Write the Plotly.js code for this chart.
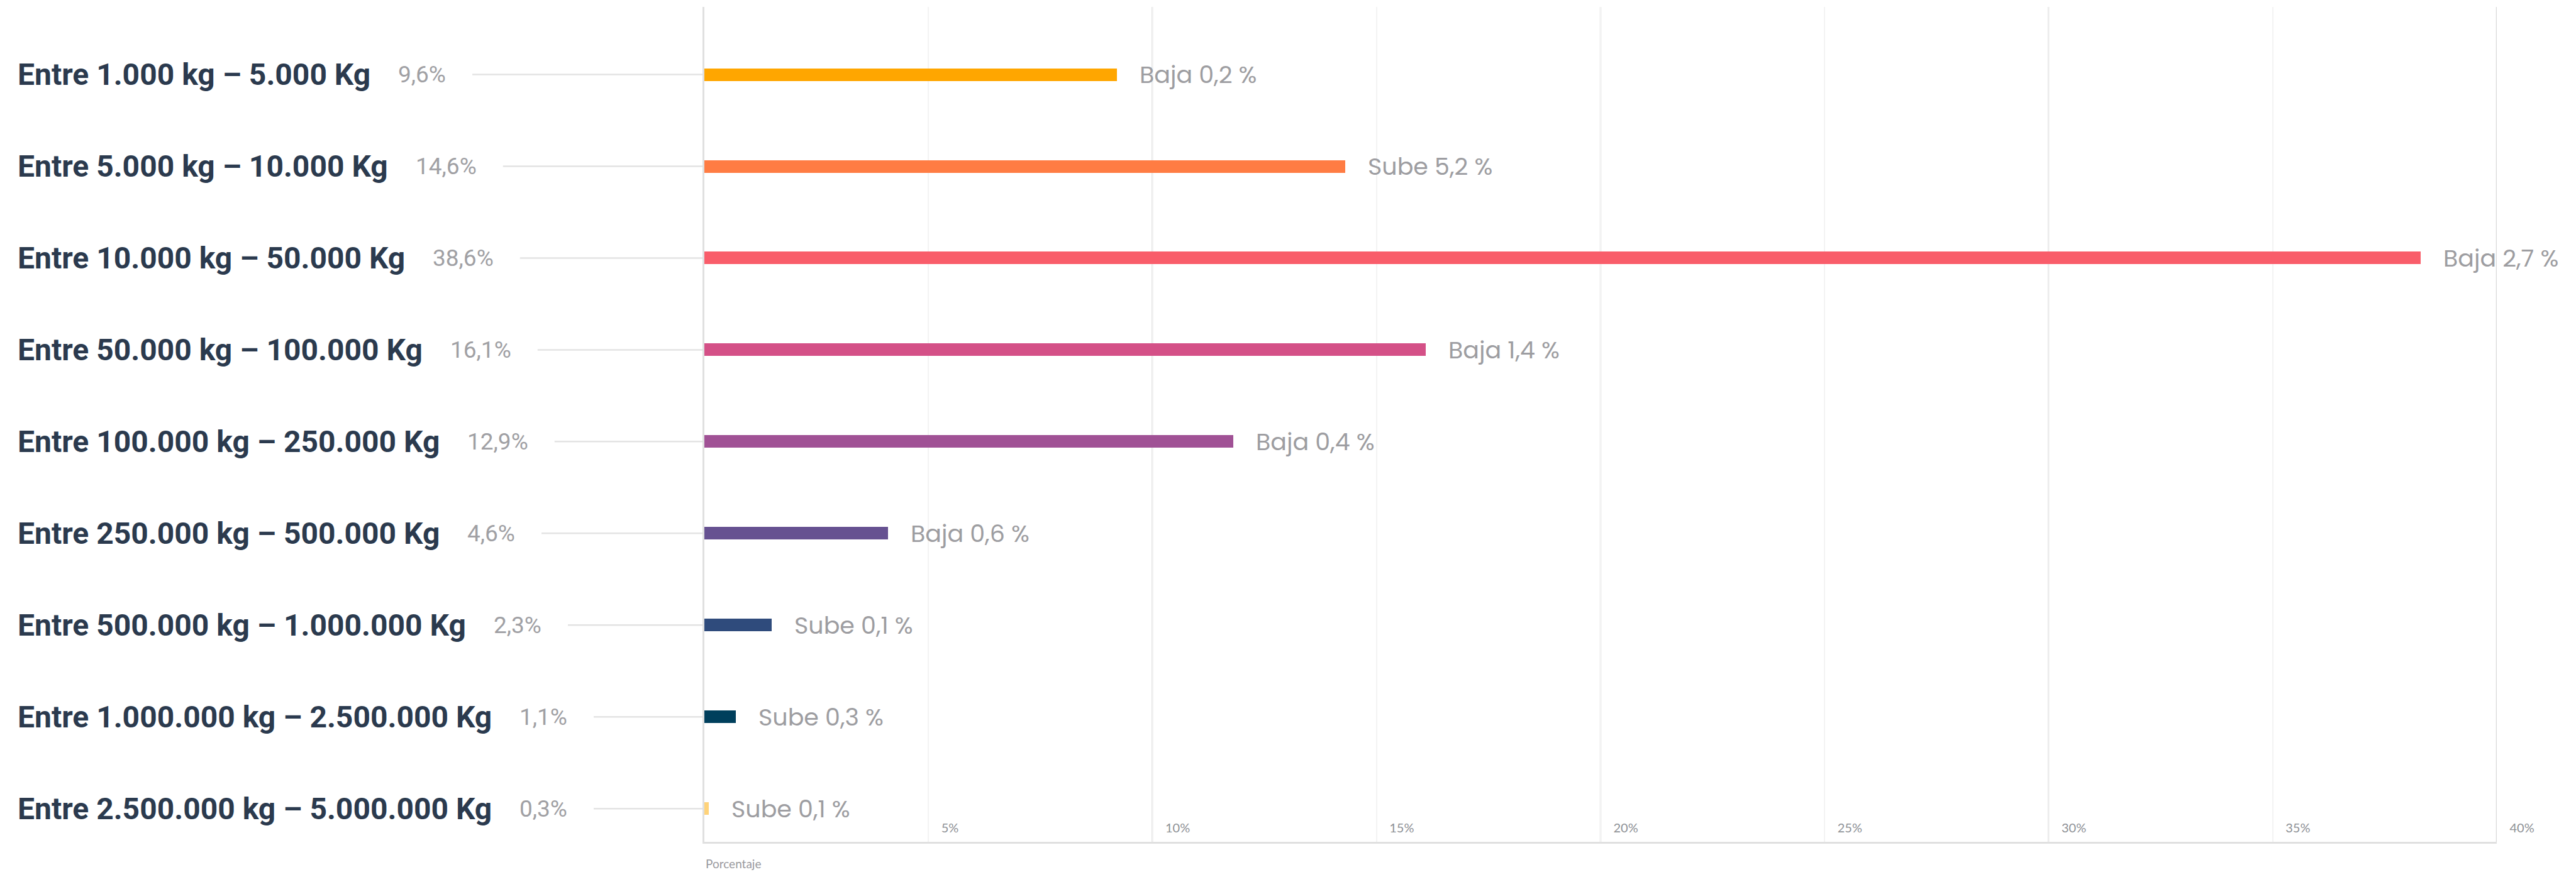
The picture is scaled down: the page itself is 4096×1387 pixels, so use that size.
<!DOCTYPE html>
<html>
<head>
<meta charset="utf-8">
<script src="https://cdn.plot.ly/plotly-3.0.1.min.js"></script>
<style>
  html, body { margin: 0; padding: 0; background: #ffffff; }
  #chart { width: 4096px; height: 1387px; }
</style>
</head>
<body>
<div id="chart"></div>
<script>
// ---- data ----
const categories = [
  'Entre 1.000 kg – 5.000 Kg',
  'Entre 5.000 kg – 10.000 Kg',
  'Entre 10.000 kg – 50.000 Kg',
  'Entre 50.000 kg – 100.000 Kg',
  'Entre 100.000 kg – 250.000 Kg',
  'Entre 250.000 kg – 500.000 Kg',
  'Entre 500.000 kg – 1.000.000 Kg',
  'Entre 1.000.000 kg – 2.500.000 Kg',
  'Entre 2.500.000 kg – 5.000.000 Kg'
];
const shareLabels = ['9,6%', '14,6%', '38,6%', '16,1%', '12,9%', '4,6%', '2,3%', '1,1%', '0,3%'];
const barValues = [9.2, 14.3, 38.3, 16.1, 11.8, 4.1, 1.5, 0.7, 0.1];
const changeLabels = ['Baja 0,2 %', 'Sube 5,2 %', 'Baja 2,7 %', 'Baja 1,4 %', 'Baja 0,4 %', 'Baja 0,6 %', 'Sube 0,1 %', 'Sube 0,3 %', 'Sube 0,1 %'];
const barColors = ['#FFA600', '#FF7C43', '#F95D6A', '#D45087', '#A05195', '#665191', '#2F4B7C', '#003F5C', '#FFD37A'];
const tickVals = [5, 10, 15, 20, 25, 30, 35, 40];
const tickText = ['5%', '10%', '15%', '20%', '25%', '30%', '35%', '40%'];
const majorGrid = [10, 20, 30, 40];
const axisTitle = 'Porcentaje';

// ---- styles ----
const LABEL_FONT = {family: 'Roboto, sans-serif', size: 48, color: '#2b3a4e', weight: 700};
const SHARE_FONT = {family: 'Roboto, sans-serif', size: 37, color: '#a0a0a4'};
const CHANGE_FONT = {family: 'Poppins, Lato, sans-serif', size: 38, color: '#9d9da1'};
const GAP = 42;

const gd = document.getElementById('chart');

const traces = [{
  type: 'bar',
  orientation: 'h',
  x: barValues,
  y: categories,
  width: 0.137,
  marker: {color: barColors, line: {width: 0}},
  hoverinfo: 'none',
  showlegend: false
}];

const annotations = [];
categories.forEach((c) => {
  annotations.push({
    xref: 'paper', yref: 'y', x: 0, y: c, xshift: -1094,
    xanchor: 'left', yanchor: 'middle', showarrow: false,
    text: c, font: LABEL_FONT
  });
});
shareLabels.forEach((s, i) => {
  annotations.push({
    xref: 'paper', yref: 'y', x: -0.2, y: categories[i],
    xanchor: 'left', yanchor: 'middle', showarrow: false,
    text: s, font: SHARE_FONT
  });
});
changeLabels.forEach((s, i) => {
  annotations.push({
    xref: 'x', yref: 'y', x: barValues[i], y: categories[i], xshift: 34,
    xanchor: 'left', yanchor: 'middle', showarrow: false,
    text: s, font: CHANGE_FONT
  });
});
annotations.push({
  xref: 'paper', yref: 'paper', x: 0, y: 0, yshift: -34,
  xanchor: 'left', yanchor: 'middle', showarrow: false,
  text: axisTitle, font: {family: 'Lato, sans-serif', size: 19, color: '#9a9a9e'}
});

const gridShapes = majorGrid.map(v => ({
  type: 'line', xref: 'x', yref: 'paper', x0: v, x1: v, y0: 0, y1: 1,
  line: {color: '#d9d9d9', width: 2.5}, layer: 'below'
}));

const layout = {
  width: 4096, height: 1387,
  margin: {l: 1120, r: 126, t: 11, b: 48, pad: 0},
  paper_bgcolor: '#ffffff', plot_bgcolor: '#ffffff',
  showlegend: false,
  bargap: 0,
  xaxis: {
    range: [0, 40],
    tickmode: 'array', tickvals: tickVals, ticktext: tickText,
    ticklabelposition: 'inside right', ticklabeloverflow: 'allow',
    ticklabelshift: 19, ticklabelstandoff: 9,
    tickfont: {family: 'Lato, sans-serif', size: 20, color: '#8e9196'},
    ticks: '',
    showgrid: true, gridcolor: '#f3f3f3', gridwidth: 2,
    showline: true, linecolor: '#e0e0e0', linewidth: 3,
    zeroline: false, layer: 'below traces', fixedrange: true
  },
  yaxis: {
    type: 'category', categoryorder: 'array', categoryarray: categories,
    range: [8.362, -0.737],
    showticklabels: false, ticks: '', showgrid: false,
    showline: true, linecolor: '#e0e0e0', linewidth: 3,
    zeroline: false, layer: 'below traces', fixedrange: true
  },
  shapes: gridShapes,
  annotations: annotations
};

const n = categories.length;

function textRight(idx) {
  const g = gd.querySelector('.annotation[data-index="' + idx + '"] text.annotation-text');
  const r = g.getBoundingClientRect();
  return r.right - gd.getBoundingClientRect().left;
}

Plotly.newPlot(gd, traces, layout, {staticPlot: true, displayModeBar: false}).then(() => {
  const sz = gd._fullLayout._size;
  const upd = {};
  for (let i = 0; i < n; i++) {
    const right = textRight(i);
    upd['annotations[' + (n + i) + '].x'] = (right + GAP - sz.l) / sz.w;
  }
  return Plotly.relayout(gd, upd);
}).then(() => {
  const sz = gd._fullLayout._size;
  const connectors = [];
  for (let i = 0; i < n; i++) {
    const right = textRight(n + i);
    connectors.push({
      type: 'line', xref: 'paper', yref: 'y',
      x0: (right + GAP - sz.l) / sz.w, x1: 0, y0: i, y1: i,
      line: {color: '#e3e3e3', width: 2.5}, layer: 'below'
    });
  }
  return Plotly.relayout(gd, {shapes: gridShapes.concat(connectors)});
});
</script>
</body>
</html>
